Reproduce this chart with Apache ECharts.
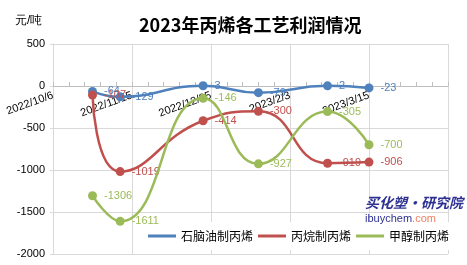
<!DOCTYPE html>
<html><head><meta charset="utf-8">
<script src="https://cdn.jsdelivr.net/npm/echarts@6/dist/echarts.min.js"></script>
<style>html,body{margin:0;padding:0;background:#fff}#c{width:467px;height:265px}</style>
</head><body><div id="c"></div>
<script>
const dates = ['2022/10/26','2022/11/9','2022/12/21','2023/1/18','2023/2/22','2023/3/15'];
const naphtha = [-64, -129, 3, -79, 2, -23];
const propane = [-107, -1019, -414, -300, -919, -906];
const methanol = [-1306, -1611, -146, -927, -305, -700];
const seriesNames = ['石脑油制丙烯','丙烷制丙烯','甲醇制丙烯'];
const colors = ['#4F81BD','#C0504D','#9BBB59'];
const axisStart = '2022/10/6';

function toUTC(s){const p=s.split('/').map(Number);return Date.UTC(p[0],p[1]-1,p[2]);}
const base = toUTC(axisStart);
function dayOff(s){return Math.round((toUTC(s)-base)/86400000);}
function fmt(d){const t=new Date(base+d*86400000);return t.getUTCFullYear()+'/'+(t.getUTCMonth()+1)+'/'+t.getUTCDate();}

const chart = echarts.init(document.getElementById('c'));
function mk(name, vals, i){
  return {
    name, type:'line', smooth:0.5, symbol:'circle', symbolSize:9,
    data: dates.map((d,k)=>[dayOff(d), vals[k]]),
    lineStyle:{color:colors[i], width:2.5},
    itemStyle:{color:colors[i]},
    label:{show:true, position:'right', distance:7, color:colors[i], fontSize:11, fontFamily:'Liberation Sans, Arial'},
    z: 3+i
  };
}
chart.setOption({
  animation:false,
  title:{text:'2023年丙烯各工艺利润情况', left:134, top:11,
    textStyle:{fontSize:18, fontWeight:'bold', color:'#000', fontFamily:'Noto Sans CJK SC'}},
  grid:{left:53, right:19, top:44, bottom:11},
  legend:{left:135, top:222, backgroundColor:'#fff', padding:[8,7,8,13],
    icon:'rect', itemWidth:28, itemHeight:3, itemGap:5,
    textStyle:{fontSize:12, color:'#000', fontFamily:'Noto Sans CJK SC'},
    data:seriesNames},
  xAxis:{type:'value', min:0, max:200, interval:40, offset:-168,
    axisLine:{onZero:false, lineStyle:{color:'#bfbfbf'}},
    axisTick:{show:true, inside:true, length:4, lineStyle:{color:'#bfbfbf'}},
    minorTick:{show:true, splitNumber:5, length:4, lineStyle:{color:'#bfbfbf'}},
    splitLine:{show:true, lineStyle:{color:'#d9d9d9'}},
    axisLabel:{rotate:20, margin:9, showMaxLabel:false, color:'#000', fontSize:11,
      fontFamily:'Liberation Sans, Arial', formatter:v=>fmt(v)}},
  yAxis:{type:'value', min:-2000, max:500, interval:500,
    axisLine:{show:true, lineStyle:{color:'#d9d9d9'}},
    axisTick:{show:true, length:3, lineStyle:{color:'#d9d9d9'}},
    splitLine:{lineStyle:{color:'#d9d9d9'}},
    axisLabel:{color:'#000', fontSize:11, margin:8, fontFamily:'Liberation Sans, Arial', formatter:v=>String(v)}},
  graphic:[
    {type:'text', left:15, top:15, style:{text:'元/吨', fontSize:12, fill:'#000', font:'12px "Noto Sans CJK SC"'}},
    {type:'text', left:365, top:196, z:10, style:{text:'买化塑·研究院', fill:'#2E3192', font:'italic bold 14px "Noto Sans CJK SC"'}},
    {type:'text', left:365, top:213, z:10, style:{text:'{a|ibuychem}{b|.com}', rich:{
      a:{fill:'#2E3192', font:'11px "Liberation Sans"'}, b:{fill:'#F08060', font:'11px "Liberation Sans"'}}}}
  ],
  series:[mk(seriesNames[0],naphtha,0), mk(seriesNames[1],propane,1), mk(seriesNames[2],methanol,2)]
});
</script></body></html>
